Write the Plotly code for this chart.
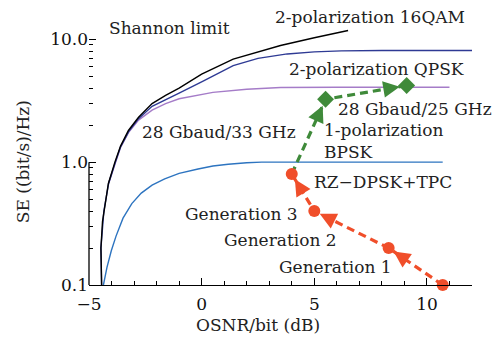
import math
import plotly.graph_objects as go

# ---------------- data ----------------
shannon_x = [-4.44, -4.47, -4.40, -4.33, -4.14, -3.85, -3.6, -3.25, -2.8, -2.2, -1.6, -1.0, 0.0, 1.4, 3.5, 5.0, 6.5]
shannon_y = [0.10, 0.20, 0.33, 0.40, 0.67, 1.0, 1.35, 1.81, 2.32, 3.0, 3.5, 4.0, 5.2, 6.9, 8.9, 10.3, 11.8]

qam16_x = [-4.44, -4.47, -4.34, -4.13, -3.83, -3.6, -3.24, -2.8, -2.2, -1.6, -1.0, 0.0, 1.4, 2.5, 3.8, 5.0, 6.2, 8.0, 12.0]
qam16_y = [0.10, 0.20, 0.40, 0.67, 1.0, 1.33, 1.77, 2.26, 2.85, 3.25, 3.65, 4.5, 6.1, 7.0, 7.6, 7.9, 8.05, 8.1, 8.1]

qpsk_x = [-4.13, -3.83, -3.6, -3.25, -2.8, -2.2, -1.6, -1.0, 0.5, 2.0, 3.5, 6.0, 11.0]
qpsk_y = [0.67, 1.0, 1.32, 1.74, 2.2, 2.65, 3.0, 3.28, 3.7, 3.92, 4.05, 4.07, 4.07]

bpsk_x = [-4.36, -4.2, -4.01, -3.8, -3.49, -3.1, -2.68, -2.2, -1.64, -1.0, -0.16, 0.5, 1.18, 2.0, 2.66, 10.7]
bpsk_y = [0.10, 0.14, 0.19, 0.25, 0.35, 0.46, 0.56, 0.65, 0.73, 0.81, 0.88, 0.93, 0.96, 0.99, 1.0, 1.0]

gen_x = [10.7, 8.3, 5.0, 4.0]          # Generation 1 -> 2 -> 3 -> RZ-DPSK+TPC
gen_y = [0.10, 0.20, 0.40, 0.80]

gb_x = [4.0, 5.5, 9.1]                 # 28 Gbaud/33 GHz -> 28 Gbaud/25 GHz
gb_y = [0.80, 3.25, 4.2]

x_ticks = [-5, 0, 5, 10]
y_ticks = [0.1, 1, 10]
y_ticktext = ["0.1", "1.0", "10.0"]

# ---------------- style ----------------
W, H = 495, 341
XR = [-5, 12]
YR = [-1, 1.1]
DEC = 123.0
ML, MR, MB = 89, 23, 56
MT = H - MB - DEC * (YR[1] - YR[0])
FONT = "DejaVu Serif"
FS = 17
C_BLACK = "#000000"
C_NAVY = "#2e3a94"
C_PURPLE = "#a57cc8"
C_BLUE = "#2d74c0"
C_RED = "#f04e2a"
C_GREEN = "#3f8a3a"

fig = go.Figure()
fig.add_trace(go.Scatter(x=bpsk_x, y=bpsk_y, mode="lines", line=dict(color=C_BLUE, width=1.4)))
fig.add_trace(go.Scatter(x=qpsk_x, y=qpsk_y, mode="lines", line=dict(color=C_PURPLE, width=1.4)))
fig.add_trace(go.Scatter(x=qam16_x, y=qam16_y, mode="lines", line=dict(color=C_NAVY, width=1.4)))
fig.add_trace(go.Scatter(x=shannon_x, y=shannon_y, mode="lines", line=dict(color=C_BLACK, width=1.4)))

fig.add_trace(go.Scatter(x=gb_x, y=gb_y, mode="lines", line=dict(color=C_GREEN, width=3.2, dash="8px,5px")))
fig.add_trace(go.Scatter(x=gb_x[1:], y=gb_y[1:], mode="markers", cliponaxis=False,
                         marker=dict(symbol="diamond", size=13, color=C_GREEN)))
fig.add_trace(go.Scatter(x=gen_x, y=gen_y, mode="lines+markers", cliponaxis=False,
                         line=dict(color=C_RED, width=3.2, dash="8px,5px"),
                         marker=dict(symbol="circle", size=12, color=C_RED)))

# arrowheads near each destination point
pw = W - ML - MR
ph = H - MT - MB
sx = pw / (XR[1] - XR[0])
sy = ph / (YR[1] - YR[0])


def add_arrows(xs, ys, color, standoff):
    for i in range(1, len(xs)):
        dx = (xs[i] - xs[i - 1]) * sx
        dy = -(math.log10(ys[i]) - math.log10(ys[i - 1])) * sy
        L = math.hypot(dx, dy)
        tail = 16
        fig.add_annotation(x=xs[i], y=math.log10(ys[i]), xref="x", yref="y",
                           ax=-dx / L * tail, ay=-dy / L * tail, axref="pixel", ayref="pixel",
                           text="", showarrow=True, arrowhead=2, arrowsize=1.1,
                           arrowwidth=3, arrowcolor=color, standoff=standoff)


add_arrows(gen_x, gen_y, C_RED, 6)
add_arrows(gb_x, gb_y, C_GREEN, 7)

labels = [
    ("Shannon limit", -4.2, 1.095, "left"),
    ("2-polarization 16QAM", 3.18, 1.179, "left"),
    ("2-polarization QPSK", 3.78, 0.759, "left"),
    ("28 Gbaud/25 GHz", 5.98, 0.434, "left"),
    ("28 Gbaud/33 GHz", -2.73, 0.244, "left"),
    ("1-polarization", 5.34, 0.258, "left"),
    ("BPSK", 5.34, 0.081, "left"),
    ("RZ−DPSK+TPC", 4.89, -0.163, "left"),
    ("Generation 3", 4.38, -0.425, "right"),
    ("Generation 2", 6.08, -0.637, "right"),
    ("Generation 1", 8.52, -0.854, "right"),
]


def px(x):
    return (x - XR[0]) / (XR[1] - XR[0])


def py(ly):
    return (ly - YR[0]) / (YR[1] - YR[0])


for t, x, y, anc in labels:
    fig.add_annotation(x=px(x), y=py(y), xref="paper", yref="paper", text=t, showarrow=False,
                       xanchor=anc, yanchor="middle", font=dict(family=FONT, size=FS, color="#222"))

# axis titles
fig.add_annotation(x=-(ML - 23) / pw, y=py(0.0), xref="paper", yref="paper", text="SE ((bit/s)/Hz)",
                   textangle=-90, showarrow=False, xanchor="center", yanchor="middle",
                   font=dict(family=FONT, size=FS, color="#222"))
fig.add_annotation(x=px(-5 + (258 - ML) / sx), y=-(325 - (H - MB)) / ph, xref="paper", yref="paper",
                   text="OSNR/bit (dB)", showarrow=False, xanchor="center", yanchor="middle",
                   font=dict(family=FONT, size=FS, color="#222"))

# left axis line from 0.1 to 10 only
fig.add_shape(type="line", xref="paper", yref="y", x0=0, x1=0, y0=-1, y1=1,
              line=dict(color="black", width=1.3))

fig.update_layout(
    width=W, height=H, margin=dict(l=ML, r=MR, t=MT, b=MB),
    paper_bgcolor="white", plot_bgcolor="white", showlegend=False,
    font=dict(family=FONT, size=FS, color="#111"),
)
fig.update_xaxes(range=XR, automargin=False, showgrid=False, zeroline=False, showline=True,
                 linecolor="black", linewidth=1.3, ticklabelstandoff=3,
                 tickvals=x_ticks, ticks="inside", ticklen=7, tickwidth=1.2, tickcolor="black",
                 minor=dict(dtick=1, ticks="inside", ticklen=4, tickwidth=1, tickcolor="black", showgrid=False),
                 tickfont=dict(family=FONT, size=FS, color="#111"))
fig.update_yaxes(type="log", range=YR, automargin=False, showgrid=False, zeroline=False, showline=False,
                 tickvals=y_ticks, ticktext=y_ticktext, ticks="inside", ticklen=7,
                 tickwidth=1.2, tickcolor="black",
                 minor=dict(dtick="D1", ticks="inside", ticklen=4, tickwidth=1, tickcolor="black", showgrid=False),
                 tickfont=dict(family=FONT, size=FS, color="#111"))

fig.write_html("out.html", config={"displayModeBar": False},
               post_script="document.body.style.margin='0';document.body.style.padding='0';")
